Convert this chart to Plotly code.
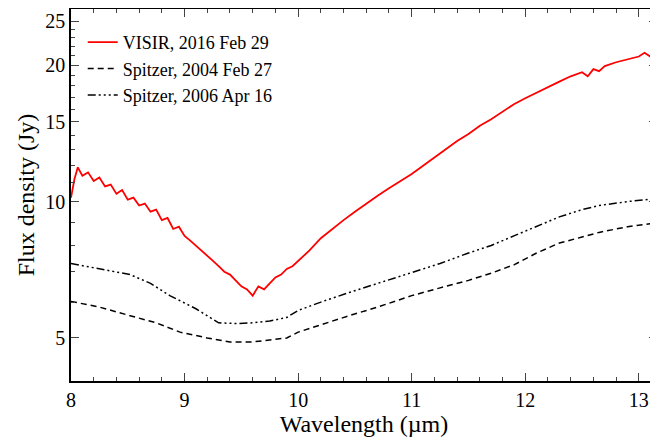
import plotly.graph_objects as go

wl_visir = [8.0,8.03,8.06,8.1,8.15,8.2,8.25,8.3,8.35,8.4,8.45,8.5,8.55,8.6,8.65,8.7,8.75,8.8,8.85,8.9,8.95,9.0,9.05,9.1,9.15,9.2,9.25,9.3,9.35,9.4,9.45,9.5,9.55,9.6,9.65,9.7,9.75,9.8,9.85,9.9,9.95,10.0,10.1,10.2,10.3,10.4,10.5,10.6,10.7,10.8,10.9,11.0,11.1,11.2,11.3,11.4,11.5,11.6,11.7,11.8,11.9,12.0,12.1,12.2,12.3,12.4,12.5,12.55,12.6,12.65,12.7,12.8,12.9,13.0,13.05,13.1,13.16]
f_visir = [10.2,11.2,11.9,11.4,11.6,11.1,11.3,10.8,10.9,10.4,10.6,10.1,10.2,9.8,9.9,9.5,9.6,9.1,9.2,8.7,8.8,8.4,8.2,8.0,7.8,7.6,7.4,7.2,7.0,6.9,6.7,6.5,6.4,6.2,6.5,6.4,6.6,6.8,6.9,7.1,7.2,7.4,7.8,8.3,8.7,9.1,9.5,9.9,10.3,10.7,11.1,11.5,12.0,12.5,13.0,13.6,14.1,14.7,15.2,15.8,16.4,16.9,17.4,17.9,18.4,18.9,19.3,18.9,19.6,19.4,19.9,20.3,20.6,20.9,21.3,20.9,21.5]

wl_2004 = [8.0,8.25,8.52,8.75,8.96,9.2,9.4,9.6,9.75,9.9,10.0,10.2,10.45,10.7,11.0,11.25,11.5,11.7,11.9,12.1,12.3,12.5,12.65,12.9,13.16]
f_2004 = [6.02,5.85,5.6,5.4,5.15,5.0,4.9,4.9,4.95,5.0,5.15,5.35,5.6,5.85,6.2,6.45,6.7,6.95,7.25,7.7,8.1,8.35,8.55,8.8,8.98]

wl_2006 = [8.0,8.25,8.52,8.7,8.87,9.1,9.3,9.45,9.6,9.75,9.9,10.0,10.2,10.45,10.7,11.0,11.25,11.5,11.7,11.9,12.1,12.3,12.5,12.65,12.9,13.16]
f_2006 = [7.3,7.1,6.9,6.6,6.2,5.8,5.4,5.38,5.4,5.45,5.55,5.75,6.0,6.3,6.6,6.97,7.3,7.7,8.0,8.4,8.8,9.25,9.6,9.8,10.0,10.15]

fig = go.Figure()
fig.add_trace(go.Scatter(x=wl_visir, y=f_visir, mode="lines", line=dict(color="red", width=1.8), name="VISIR, 2016 Feb 29"))
fig.add_trace(go.Scatter(x=wl_2004, y=f_2004, mode="lines", line=dict(color="black", width=1.5, dash="6px,4px"), name="Spitzer, 2004 Feb 27"))
fig.add_trace(go.Scatter(x=wl_2006, y=f_2006, mode="lines", line=dict(color="black", width=1.5, dash="8px,3px,2px,3px,2px,3px,2px,3px"), name="Spitzer, 2006 Apr 16"))

font = dict(family="Liberation Serif", size=20, color="black")
fig.update_layout(
    width=650, height=435, margin=dict(l=63, r=1, t=1, b=62, autoexpand=False),
    paper_bgcolor="white", plot_bgcolor="white", font=font,
    legend=dict(x=0.02, y=0.96, xanchor="left", yanchor="top", bgcolor="rgba(0,0,0,0)", font=dict(family="Liberation Serif", size=18)),
    xaxis=dict(range=[8, 13.16], tickvals=[8,9,10,11,12,13], showline=True, linecolor="black", linewidth=1.5, mirror="ticks", automargin=False,
               ticks="inside", ticklen=8, minor=dict(ticks="inside", ticklen=4, dtick=0.2), showgrid=False, zeroline=False,
               title=dict(text="Wavelength (µm)", standoff=2)),
    yaxis=dict(type="log", range=[0.604, 1.425], tickvals=[5,10,15,20,25], ticktext=["5","10","15","20","25"], showline=True, linecolor="black", linewidth=1.5, mirror="ticks", automargin=False,
               ticks="inside", ticklen=8, minor=dict(ticks="inside", ticklen=4, tickvals=[4,6,7,8,9,11,12,13,14,16,17,18,19,21,22,23,24]), showgrid=False, zeroline=False,
               title=dict(text="Flux density (Jy)", standoff=4)),
)
fig.write_html("out.html")
